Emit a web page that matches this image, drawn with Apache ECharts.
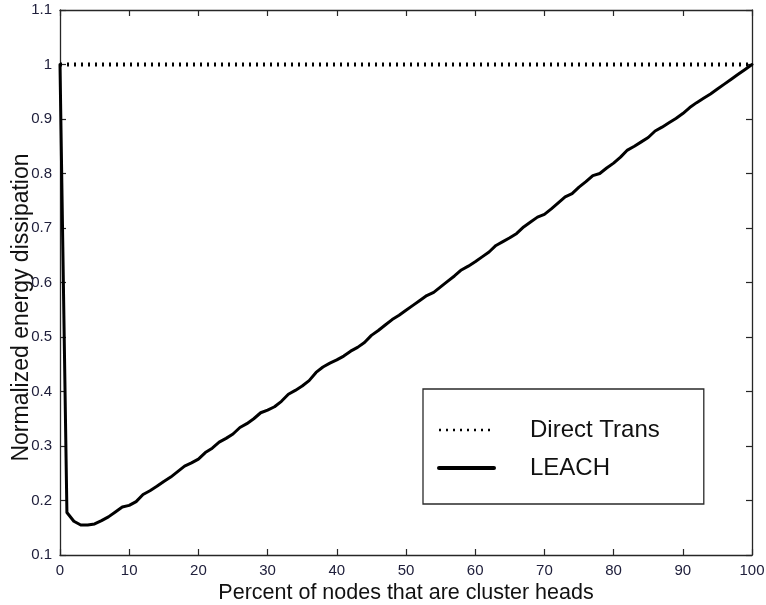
<!DOCTYPE html>
<html>
<head>
<meta charset="utf-8">
<script src="https://cdn.jsdelivr.net/npm/echarts@6/dist/echarts.min.js"></script>
<style>
  html, body { margin: 0; padding: 0; background: #ffffff; }
  #chart { width: 766px; height: 605px; }
</style>
</head>
<body>
<div id="chart"></div>
<script>
// Percent of nodes acting as cluster heads (x) and normalized energy dissipation (y)
const percentHeads = [
  0, 1, 2, 3, 4, 5, 6, 7, 8, 9,
  10, 11, 12, 13, 14, 15, 16, 17, 18, 19,
  20, 21, 22, 23, 24, 25, 26, 27, 28, 29,
  30, 31, 32, 33, 34, 35, 36, 37, 38, 39,
  40, 41, 42, 43, 44, 45, 46, 47, 48, 49,
  50, 51, 52, 53, 54, 55, 56, 57, 58, 59,
  60, 61, 62, 63, 64, 65, 66, 67, 68, 69,
  70, 71, 72, 73, 74, 75, 76, 77, 78, 79,
  80, 81, 82, 83, 84, 85, 86, 87, 88, 89,
  90, 91, 92, 93, 94, 95, 96, 97, 98, 99,
  100
];
const leachEnergy = [
  1.000, 0.178, 0.162, 0.155, 0.155, 0.157, 0.163, 0.170, 0.179, 0.188,
  0.191, 0.198, 0.211, 0.218, 0.226, 0.235, 0.243, 0.253, 0.263, 0.269,
  0.276, 0.288, 0.296, 0.307, 0.314, 0.322, 0.334, 0.341, 0.350, 0.361,
  0.366, 0.372, 0.382, 0.395, 0.402, 0.410, 0.420, 0.435, 0.445, 0.452,
  0.458, 0.465, 0.474, 0.481, 0.490, 0.503, 0.512, 0.522, 0.532, 0.540,
  0.549, 0.558, 0.567, 0.576, 0.582, 0.592, 0.602, 0.612, 0.623, 0.630,
  0.638, 0.647, 0.656, 0.668, 0.675, 0.682, 0.690, 0.702, 0.711, 0.720,
  0.725, 0.735, 0.746, 0.757, 0.763, 0.775, 0.785, 0.796, 0.800, 0.810,
  0.819, 0.830, 0.843, 0.850, 0.858, 0.866, 0.878, 0.885, 0.893, 0.901,
  0.910, 0.921, 0.930, 0.938, 0.946, 0.955, 0.964, 0.973, 0.982, 0.991,
  1.000
];
const directX = [0, 100];
const directEnergy = [1, 1];

const seriesNames = ['Direct Trans', 'LEACH'];
const xTitle = 'Percent of nodes that are cluster heads';
const yTitle = 'Normalized energy dissipation';

const xRange = { min: 0, max: 100, interval: 10 };
const yRange = { min: 0.1, max: 1.1, interval: 0.1 };

const FONT = '"Liberation Sans", Arial, sans-serif';
const LABEL_COLOR = '#20203c';
const AXIS_COLOR = '#262626';

function pairs(xs, ys) {
  return xs.map((x, i) => [x, ys[i]]);
}

const frameLine = { show: true, onZero: false, lineStyle: { color: AXIS_COLOR, width: 1.3 } };
const inwardTick = { show: true, inside: true, length: 6, lineStyle: { color: AXIS_COLOR, width: 1.2 } };

const chart = echarts.init(document.getElementById('chart'), null, { renderer: 'canvas' });

chart.setOption({
  animation: false,
  backgroundColor: '#ffffff',
  grid: {
    left: 60, right: 14, top: 10, bottom: 50,
    containLabel: false, outerBoundsMode: 'none'
  },
  xAxis: [
    {
      type: 'value', position: 'bottom',
      min: xRange.min, max: xRange.max, interval: xRange.interval,
      name: xTitle, nameLocation: 'middle', nameGap: 27, nameMoveOverlap: false,
      nameTextStyle: { fontFamily: FONT, fontSize: 21.5, color: '#111111' },
      axisLine: frameLine, axisTick: inwardTick,
      axisLabel: { margin: 8, fontFamily: FONT, fontSize: 15, color: LABEL_COLOR },
      splitLine: { show: false }
    },
    {
      type: 'value', position: 'top',
      min: xRange.min, max: xRange.max, interval: xRange.interval,
      axisLine: frameLine, axisTick: inwardTick,
      axisLabel: { show: false }, splitLine: { show: false }
    }
  ],
  yAxis: [
    {
      type: 'value', position: 'left',
      min: yRange.min, max: yRange.max, interval: yRange.interval,
      name: yTitle, nameLocation: 'middle', nameGap: 27, nameRotate: 90,
      nameMoveOverlap: false,
      nameTextStyle: {
        fontFamily: FONT, fontSize: 23, color: '#111111',
        padding: [0, 50, 0, 0]
      },
      axisLine: frameLine, axisTick: inwardTick,
      axisLabel: {
        margin: 8, fontFamily: FONT, fontSize: 15, color: LABEL_COLOR,
        formatter: v => String(Math.round(v * 10) / 10)
      },
      splitLine: { show: false }
    },
    {
      type: 'value', position: 'right',
      min: yRange.min, max: yRange.max, interval: yRange.interval,
      axisLine: frameLine, axisTick: inwardTick,
      axisLabel: { show: false }, splitLine: { show: false }
    }
  ],
  legend: {
    orient: 'vertical',
    left: 423, top: 389,
    padding: [28, 44, 23, 14],
    itemGap: 12,
    itemWidth: 55, itemHeight: 14,
    backgroundColor: '#ffffff',
    borderColor: '#2a2a2a', borderWidth: 1.3, borderRadius: 0,
    textStyle: {
      fontFamily: FONT, fontSize: 24, color: '#111111',
      lineHeight: 26, padding: [0, 0, 0, 31]
    },
    data: [
      { name: seriesNames[0], lineStyle: { width: 2.5 }, itemStyle: { opacity: 0 } },
      { name: seriesNames[1], lineStyle: { width: 4 }, itemStyle: { opacity: 0 } }
    ]
  },
  series: [
    {
      name: seriesNames[0],
      type: 'line',
      xAxisIndex: 0, yAxisIndex: 0,
      data: pairs(directX, directEnergy),
      showSymbol: false, symbol: 'none',
      lineStyle: { color: '#000000', width: 4, type: [2, 5] },
      itemStyle: { color: '#000000' },
      z: 3
    },
    {
      name: seriesNames[1],
      type: 'line',
      xAxisIndex: 0, yAxisIndex: 0,
      data: pairs(percentHeads, leachEnergy),
      showSymbol: false, symbol: 'none',
      clip: false,
      lineStyle: { color: '#000000', width: 3, join: 'round', cap: 'round' },
      itemStyle: { color: '#000000' },
      z: 4
    }
  ]
});
</script>
</body>
</html>
